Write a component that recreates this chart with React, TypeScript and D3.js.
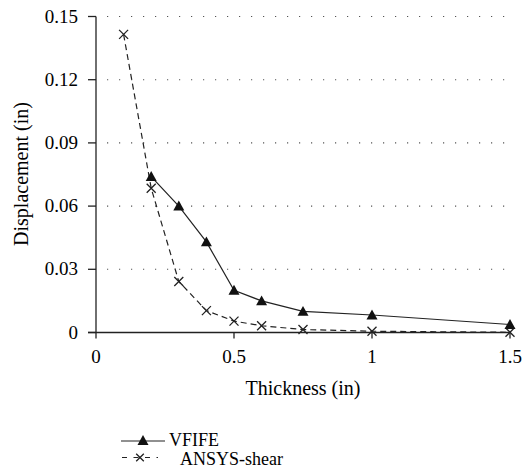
import React from 'react';
import * as d3 from 'd3';

const thickness = [0.2, 0.3, 0.4, 0.5, 0.6, 0.75, 1.0, 1.5];
const vfife = [0.074, 0.06, 0.043, 0.02, 0.015, 0.01, 0.0083, 0.0038];
const ansysThickness = [0.1, 0.2, 0.3, 0.4, 0.5, 0.6, 0.75, 1.0, 1.5];
const ansysShear = [0.1415, 0.0685, 0.0242, 0.0104, 0.0054, 0.0032, 0.0014, 0.0006, 0.0001];
const xTicks = [0, 0.5, 1, 1.5];
const yTicks = [0, 0.03, 0.06, 0.09, 0.12, 0.15];
const seriesNames = ['VFIFE', 'ANSYS-shear'];

const W = 523;
const H = 472;
const SERIF = 'Liberation Serif, Times New Roman, serif';

const x = d3.scaleLinear().domain([0, 1.5]).range([96, 510]);
const y = d3.scaleLinear().domain([0, 0.15]).range([332.5, 16.5]);

const tri = (cx: number, cy: number, s = 5.5) =>
  `M${cx},${cy - s} L${cx + s},${cy + s * 0.8} L${cx - s},${cy + s * 0.8} Z`;

const cross = (cx: number, cy: number, s = 4.5) =>
  `M${cx - s},${cy - s} L${cx + s},${cy + s} M${cx - s},${cy + s} L${cx + s},${cy - s}`;

const App = () => {
  const lineGen = d3
    .line<[number, number]>()
    .x((d) => x(d[0]))
    .y((d) => y(d[1]));
  const vfifePts: [number, number][] = thickness.map((t, i) => [t, vfife[i]]);
  const ansysPts: [number, number][] = ansysThickness.map((t, i) => [t, ansysShear[i]]);
  const x0 = x(0);
  const yb = y(0);

  return (
    <div style={{ position: 'absolute', left: 0, top: 0, fontFamily: SERIF }}>
      <svg width={W} height={H} fontFamily={SERIF} style={{ display: 'block', background: '#fff' }}>
        {/* dotted grid */}
        {yTicks.slice(1).map((t) => (
          <line
            key={'g' + t}
            x1={x0 + 11}
            x2={x(1.5) + 1}
            y1={y(t)}
            y2={y(t)}
            stroke="#555"
            strokeWidth={1.1}
            strokeDasharray="1.2,10.8"
          />
        ))}
        {/* axes */}
        <line x1={x0} x2={x0} y1={y(0.15)} y2={yb} stroke="#222" strokeWidth={1.3} />
        <line x1={x0 - 8} x2={x(1.5)} y1={yb} y2={yb} stroke="#222" strokeWidth={1.3} />
        {yTicks.map((t) => (
          <g key={'y' + t}>
            <line x1={x0 - 8} x2={x0} y1={y(t)} y2={y(t)} stroke="#222" strokeWidth={1.3} />
            <text x={x0 - 18} y={y(t) + 6} textAnchor="end" fontSize={19}>
              {t === 0 ? '0' : t.toFixed(2)}
            </text>
          </g>
        ))}
        {xTicks.map((t) => (
          <g key={'x' + t}>
            <line x1={x(t)} x2={x(t)} y1={yb} y2={yb + 6} stroke="#222" strokeWidth={1.3} />
            <text x={x(t)} y={yb + 30} textAnchor="middle" fontSize={19}>
              {String(t)}
            </text>
          </g>
        ))}
        <text x={303} y={395} textAnchor="middle" fontSize={20}>
          Thickness (in)
        </text>
        <text transform="translate(28,174) rotate(-90)" textAnchor="middle" fontSize={20}>
          Displacement (in)
        </text>

        {/* series */}
        <path d={lineGen(ansysPts) || ''} fill="none" stroke="#222" strokeWidth={1.2} strokeDasharray="6,4" />
        <path d={lineGen(vfifePts) || ''} fill="none" stroke="#222" strokeWidth={1.2} />
        {ansysPts.map((d, i) => (
          <path key={'a' + i} d={cross(x(d[0]), y(d[1]))} stroke="#222" strokeWidth={1.3} fill="none" />
        ))}
        {vfifePts.map((d, i) => (
          <path key={'v' + i} d={tri(x(d[0]), y(d[1]))} fill="#111" />
        ))}

        {/* legend */}
        <line x1={121} x2={165} y1={441} y2={441} stroke="#222" strokeWidth={1.2} />
        <path d={tri(143, 440.5)} fill="#111" />
        <text x={169} y={445.5} fontSize={18}>
          {seriesNames[0]}
        </text>
        <line x1={122} x2={158} y1={457.5} y2={457.5} stroke="#222" strokeWidth={1.2} strokeDasharray="5,6.5" />
        <path d={cross(140, 457.5, 3.8)} stroke="#222" strokeWidth={1.3} fill="none" />
        <text x={180} y={464.5} fontSize={18}>
          {seriesNames[1]}
        </text>
      </svg>
    </div>
  );
};

export default App;
